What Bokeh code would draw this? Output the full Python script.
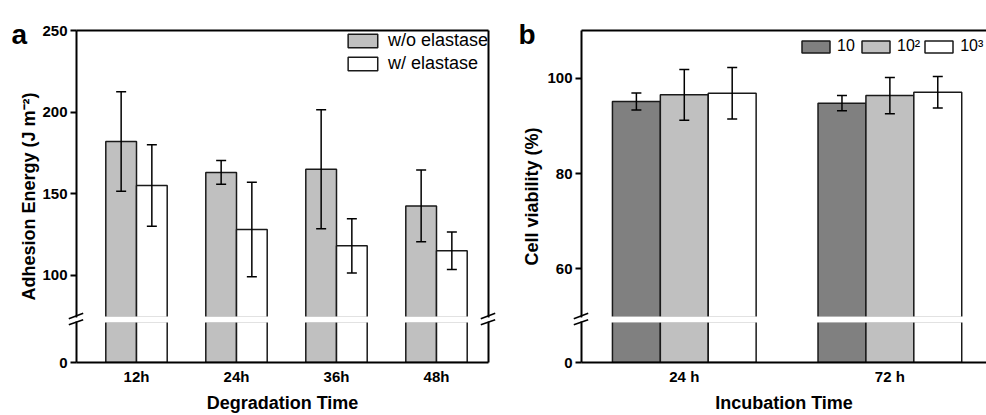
import math
from bokeh.plotting import figure
from bokeh.models import (ColumnDataSource, FixedTicker, LinearAxis, Range1d,
                          Whisker, TeeHead, Label, GridBox)
from bokeh.layouts import row, column
from bokeh.embed import file_html
from bokeh.resources import INLINE

# ---------------- data ----------------
# panel a : adhesion energy
deg_times = ["12h", "24h", "36h", "48h"]
wo_elastase = [182.0, 163.0, 165.0, 142.5]
wo_elastase_err = [30.5, 7.3, 36.5, 22.0]
w_elastase = [155.0, 128.0, 118.0, 115.0]
w_elastase_err = [25.0, 29.0, 16.6, 11.5]
a_yticks_upper = [100, 150, 200, 250]
a_yticks_lower = [0]

# panel b : cell viability
inc_times = ["24 h", "72 h"]
via_10 = [95.1, 94.75]
via_10_err = [1.8, 1.6]
via_100 = [96.5, 96.35]
via_100_err = [5.3, 3.8]
via_1000 = [96.85, 97.05]
via_1000_err = [5.4, 3.3]
b_yticks_upper = [60, 80, 100]
b_yticks_lower = [0]

FONT = "Liberation Sans"
W, H = 986, 415

# ranges of the two halves of each broken axis
A_XR = (0.4, 4.52)
B_XR = (0.5, 2.47)
A_UP_YR = (74.1, 250)
A_LO_YR = (0, 25.1)
B_UP_YR = (49.8, 110)
B_LO_YR = (0, 8.6)


def make_fig(width, height, xr, yr, borders):
    p = figure(width=width, height=height,
               x_range=Range1d(*xr), y_range=Range1d(*yr),
               output_backend="svg", toolbar_location=None,
               x_axis_location=None, y_axis_location=None,
               min_border_left=borders[0], min_border_right=borders[1],
               min_border_top=borders[2], min_border_bottom=borders[3])
    p.grid.grid_line_color = None
    p.outline_line_color = None
    p.background_fill_color = "white"
    p.border_fill_color = "white"
    return p


def add_axis(p, side, ticks, overrides=None, tick_len=6):
    ax = LinearAxis(ticker=FixedTicker(ticks=ticks))
    ax.axis_line_width = 2
    ax.axis_line_color = "black"
    ax.major_tick_line_width = 2
    ax.major_tick_line_color = "black"
    ax.major_tick_out = tick_len
    ax.major_tick_in = 0
    ax.minor_tick_line_color = None
    ax.major_label_text_font = FONT
    ax.major_label_text_font_size = "15px"
    ax.major_label_text_font_style = "bold"
    ax.major_label_text_color = "black"
    ax.major_label_standoff = 3
    if overrides:
        ax.major_label_overrides = overrides
    p.add_layout(ax, side)
    return ax


def style_xtitle(ax, text):
    ax.major_label_standoff = 5
    ax.axis_label = text
    ax.axis_label_text_font = FONT
    ax.axis_label_text_font_size = "18px"
    ax.axis_label_text_font_style = "bold"
    ax.axis_label_text_color = "black"
    ax.axis_label_standoff = 5


def add_whiskers(p, src, specs):
    for base, up, lo in specs:
        p.add_layout(Whisker(source=src, base=base, upper=up, lower=lo, level="overlay",
                             line_width=1.5, line_color="black",
                             upper_head=TeeHead(size=10, line_width=1.5, line_color="black"),
                             lower_head=TeeHead(size=10, line_width=1.5, line_color="black")))


# ---------------- panel a ----------------
a_pos = [i + 1 for i in range(len(deg_times))]
a_bw = 0.307
a_src = ColumnDataSource(dict(
    xg=[x - a_bw / 2 for x in a_pos],
    xw=[x + a_bw / 2 for x in a_pos],
    wo=wo_elastase,
    wo_up=[v + e for v, e in zip(wo_elastase, wo_elastase_err)],
    wo_lo=[v - e for v, e in zip(wo_elastase, wo_elastase_err)],
    w=w_elastase,
    w_up=[v + e for v, e in zip(w_elastase, w_elastase_err)],
    w_lo=[v - e for v, e in zip(w_elastase, w_elastase_err)],
))

a_up = make_fig(500, 319, A_XR, A_UP_YR, (76, 12, 30, 2))
a_lo = make_fig(500, 96, A_XR, A_LO_YR, (76, 12, 2, 53))

for p, with_legend in ((a_up, True), (a_lo, False)):
    kw1 = dict(legend_label="w/o elastase") if with_legend else {}
    kw2 = dict(legend_label="w/ elastase") if with_legend else {}
    p.vbar(x="xg", top="wo", bottom=0, width=a_bw, source=a_src,
           fill_color="#c0c0c0", line_color="#1a1a1a", line_width=1.5, **kw1)
    p.vbar(x="xw", top="w", bottom=0, width=a_bw, source=a_src,
           fill_color="white", line_color="#1a1a1a", line_width=1.5, **kw2)

add_whiskers(a_up, a_src, (("xg", "wo_up", "wo_lo"), ("xw", "w_up", "w_lo")))

add_axis(a_up, "left", a_yticks_upper)
add_axis(a_up, "above", [])
add_axis(a_up, "right", [])
add_axis(a_lo, "left", a_yticks_lower)
add_axis(a_lo, "right", [])
xa = add_axis(a_lo, "below", a_pos, {p: t for p, t in zip(a_pos, deg_times)}, tick_len=0)
style_xtitle(xa, "Degradation Time")

lg = a_up.legend[0]
lg.location = "top_right"
lg.border_line_color = None
lg.background_fill_alpha = 0
lg.margin = 0
lg.padding = 3
lg.spacing = 2
lg.glyph_width = 37
lg.glyph_height = 17
lg.label_height = 17
lg.label_standoff = 7
lg.label_text_font = FONT
lg.label_text_font_size = "18px"
lg.label_text_color = "black"

# ---------------- panel b ----------------
b_pos = [i + 1 for i in range(len(inc_times))]
b_bw = 0.233
b_src = ColumnDataSource(dict(
    x1=[x - b_bw for x in b_pos],
    x2=list(b_pos),
    x3=[x + b_bw for x in b_pos],
    v1=via_10, v1u=[v + e for v, e in zip(via_10, via_10_err)], v1l=[v - e for v, e in zip(via_10, via_10_err)],
    v2=via_100, v2u=[v + e for v, e in zip(via_100, via_100_err)], v2l=[v - e for v, e in zip(via_100, via_100_err)],
    v3=via_1000, v3u=[v + e for v, e in zip(via_1000, via_1000_err)], v3l=[v - e for v, e in zip(via_1000, via_1000_err)],
))

b_up = make_fig(486, 319, B_XR, B_UP_YR, (81, 0, 30, 2))
b_lo = make_fig(486, 96, B_XR, B_LO_YR, (81, 0, 2, 53))

series_b = (("x1", "v1", "#808080", "10"), ("x2", "v2", "#c0c0c0", "10\u00b2"),
            ("x3", "v3", "white", "10\u00b3"))
for p, with_legend in ((b_up, True), (b_lo, False)):
    for xf, vf, col, lab in series_b:
        kw = dict(legend_label=lab) if with_legend else {}
        p.vbar(x=xf, top=vf, bottom=0, width=b_bw, source=b_src,
               fill_color=col, line_color="#1a1a1a", line_width=1.5, **kw)

add_whiskers(b_up, b_src, [(xf, vf + "u", vf + "l") for xf, vf, _, _ in series_b])

add_axis(b_up, "left", b_yticks_upper)
add_axis(b_up, "above", [])
add_axis(b_lo, "left", b_yticks_lower)
xb = add_axis(b_lo, "below", b_pos, {p: t for p, t in zip(b_pos, inc_times)}, tick_len=0)
style_xtitle(xb, "Incubation Time")

lgb = b_up.legend[0]
lgb.orientation = "horizontal"
lgb.location = (217, 262)
lgb.border_line_color = None
lgb.background_fill_alpha = 0
lgb.margin = 0
lgb.padding = 0
lgb.spacing = 1
lgb.glyph_width = 35
lgb.glyph_height = 15
lgb.label_height = 15
lgb.label_standoff = 4
lgb.label_text_font = FONT
lgb.label_text_font_size = "16px"
lgb.label_text_color = "black"

# ---------------- transparent overlay: free texts, axis-break band and marks ----------------
ov = figure(width=W, height=H, x_range=Range1d(0, W), y_range=Range1d(0, H),
            output_backend="svg", toolbar_location=None,
            x_axis_location=None, y_axis_location=None, min_border=0)
ov.grid.grid_line_color = None
ov.outline_line_color = None
ov.background_fill_alpha = 0
ov.border_fill_alpha = 0

for txt, px, py in (("a", 11, 34), ("b", 518, 34)):
    ov.add_layout(Label(x=px, y=H - py, text=txt, text_font=FONT, text_font_size="28px",
                        text_font_style="bold", text_align="left", text_baseline="alphabetic",
                        text_color="black"))
for txt, px, py in (("Adhesion Energy (J m\u207b\u00b2)", 28, 196), ("Cell viability (%)", 531, 196)):
    ov.add_layout(Label(x=px, y=H - py, text=txt, angle=math.pi / 2, text_font=FONT,
                        text_font_size="18px", text_font_style="bold", text_color="black",
                        text_align="center", text_baseline="middle"))

# white band of the axis break across each plotting area
ov.quad(left=[77, 582], right=[487, W], bottom=[H - 322, H - 322], top=[H - 316, H - 316],
        fill_color="white", line_color=None)

bx0, by0, bx1, by1 = [], [], [], []
for fx in (76, 488, 581):
    for ya, yb in ((318.3, 312.7), (324.3, 319.3)):
        bx0.append(fx - 7.7)
        by0.append(H - ya)
        bx1.append(fx + 6.7)
        by1.append(H - yb)
ov.segment(x0=bx0, y0=by0, x1=bx1, y1=by1, line_color="black", line_width=1.5)

main = row(column(a_up, a_lo), column(b_up, b_lo))
layout = GridBox(children=[(main, 0, 0), (ov, 0, 0)])
open("out.html", "w").write(file_html(layout, INLINE))
